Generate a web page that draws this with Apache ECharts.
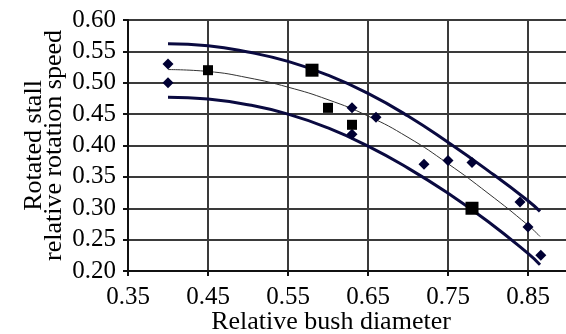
<!DOCTYPE html>
<html>
<head>
<meta charset="utf-8">
<script src="https://cdn.jsdelivr.net/npm/echarts@6/dist/echarts.min.js"></script>
<style>
html,body{margin:0;padding:0;background:#fff;}
#c{width:566px;height:334px;}
</style>
</head>
<body>
<div id="c"></div>
<script>
// Scatter points (diamonds)
var diamondPts = [[0.40,0.53],[0.40,0.50],[0.63,0.46],[0.66,0.445],[0.63,0.418],[0.72,0.37],[0.75,0.376],[0.78,0.373],[0.84,0.31],[0.85,0.27],[0.866,0.225]];
// Scatter points (squares)
var squarePts = [[0.45,0.52],[0.60,0.46],[0.63,0.433]];
// Larger markers
var bigPts = [[0.58,0.52],[0.78,0.30]];
// Trend curves
var curveX = [0.40,0.45,0.50,0.55,0.60,0.65,0.70,0.75,0.80,0.85,0.865];
var upperY = [0.562,0.559,0.549,0.534,0.512,0.483,0.447,0.405,0.360,0.312,0.295];
var middleY = [0.521,0.518,0.508,0.493,0.473,0.447,0.413,0.371,0.324,0.273,0.255];
var lowerY = [0.477,0.474,0.465,0.450,0.428,0.399,0.364,0.324,0.279,0.228,0.210];
// Axes
var xMin = 0.35, xMax = 0.90, xStep = 0.10;
var yMin = 0.20, yMax = 0.60, yStep = 0.05;
var xTitle = 'Relative bush diameter';
var yTitle = 'Rotated stall\nrelative rotation speed';

function zip(xs, ys){ return xs.map(function(x,i){ return [x, ys[i]]; }); }

var font = 'Liberation Serif';
var gridCol = '#3a3a3a';
var chart = echarts.init(document.getElementById('c'), null, {renderer:'canvas'});
chart.setOption({
  animation:false,
  backgroundColor:'#fff',
  grid:{left:128, top:20, width:440, height:251, containLabel:false, outerBoundsMode:'none'},
  xAxis:{
    type:'value', min:xMin, max:xMax, interval:xStep,
    name:xTitle, nameLocation:'middle', nameGap:38, nameMoveOverlap:false,
    nameTextStyle:{fontFamily:font, fontSize:26, color:'#000', padding:[0,34,0,0]},
    axisLine:{show:true, lineStyle:{color:'#111', width:2}},
    axisTick:{show:true, inside:false, length:5, lineStyle:{color:'#111', width:2}},
    axisLabel:{fontFamily:font, fontSize:25, color:'#000', margin:14,
      formatter:function(v){ return v.toFixed(2); }},
    splitLine:{show:true, lineStyle:{color:gridCol, width:2}}
  },
  yAxis:{
    type:'value', min:yMin, max:yMax, interval:yStep,
    name:yTitle, nameLocation:'middle', nameGap:64, nameRotate:90, nameMoveOverlap:false,
    nameTextStyle:{fontFamily:font, fontSize:26, color:'#000', lineHeight:20},
    axisLine:{show:true, lineStyle:{color:'#111', width:2}},
    axisTick:{show:true, inside:false, length:5, lineStyle:{color:'#111', width:2}},
    axisLabel:{fontFamily:font, fontSize:25, color:'#000', margin:12,
      formatter:function(v){ return v.toFixed(2); }},
    splitLine:{show:true, lineStyle:{color:gridCol, width:2}}
  },
  series:[
    {type:'line', data:zip(curveX, upperY), smooth:true, showSymbol:false, symbol:'none',
      lineStyle:{color:'#0a0a40', width:3}, z:3},
    {type:'line', data:zip(curveX, middleY), smooth:true, showSymbol:false, symbol:'none',
      lineStyle:{color:'#333', width:1}, z:3},
    {type:'line', data:zip(curveX, lowerY), smooth:true, showSymbol:false, symbol:'none',
      lineStyle:{color:'#0a0a40', width:3}, z:3},
    {type:'scatter', data:diamondPts, symbol:'diamond', symbolSize:11,
      itemStyle:{color:'#000033', opacity:1}, z:4},
    {type:'scatter', data:squarePts, symbol:'rect', symbolSize:10,
      itemStyle:{color:'#000', opacity:1}, z:4},
    {type:'scatter', data:bigPts, symbol:'rect', symbolSize:13,
      itemStyle:{color:'#000', opacity:1}, z:4}
  ]
});
</script>
</body>
</html>
